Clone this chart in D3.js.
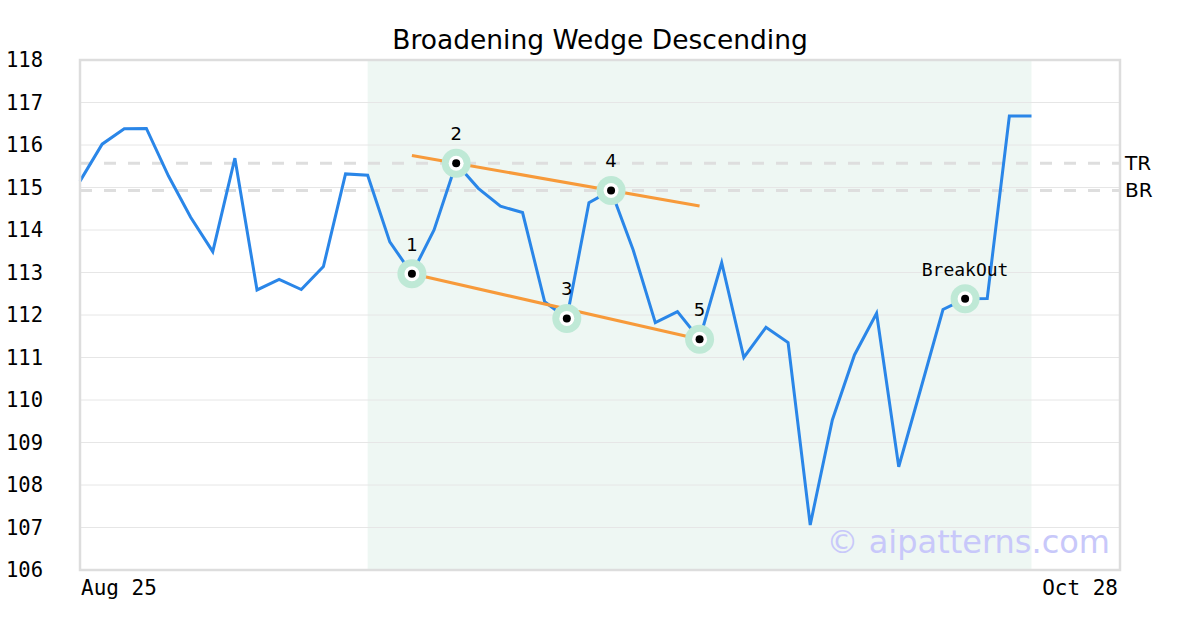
<!DOCTYPE html>
<html><head><meta charset="utf-8">
<script src="https://cdn.jsdelivr.net/npm/d3@7"></script>
<style>body{margin:0;background:#fff}svg{display:block}</style>
</head><body><svg id="c" width="1200" height="630"></svg>
<script>
const title = "Broadening Wedge Descending";
const prices = [115.15,116.02,116.38,116.39,115.27,114.30,113.49,115.69,112.59,112.84,112.60,113.14,115.32,115.29,113.72,112.97,114.00,115.57,114.98,114.56,114.41,112.31,111.92,114.64,114.93,113.53,111.82,112.08,111.43,113.23,111.00,111.71,111.35,107.06,109.53,111.06,112.04,108.43,110.27,112.13,112.38,112.39,116.68,116.68];
const pivotIdx = [15,17,22,24,28];
const pivotLabels = ["1","2","3","4","5"];
const breakoutIdx = 40;
const breakoutLabel = "BreakOut";
const shadeRange = [13,43];
const upperLine = [17,24];  // through pivots 2 and 4
const lowerLine = [15,28];  // pivot 1 to pivot 5
const lineSpan = [15,28];
const levels = [{name:"TR", value:115.57},{name:"BR", value:114.93}];
const yTicks = [106,107,108,109,110,111,112,113,114,115,116,117,118];
const xTickLabels = [{i:0,label:"Aug 25"},{i:47,label:"Oct 28"}];
const watermark = "© aipatterns.com";

const svg = d3.select("#c");
const L=80,R=1120,T=60,B=570;
const x = d3.scaleLinear().domain([0,47]).range([L,R]);
const y = d3.scaleLinear().domain([106,118]).range([B,T]);

// shade
svg.append("rect").attr("x",x(shadeRange[0])).attr("y",T).attr("width",x(shadeRange[1])-x(shadeRange[0])).attr("height",B-T).attr("fill","#eef7f3");

// grid
svg.append("g").selectAll("line").data(yTicks).join("line")
  .attr("x1",L).attr("x2",R).attr("y1",d=>y(d)).attr("y2",d=>y(d))
  .attr("stroke","#e6e6e6").attr("stroke-width",1);

// y labels
svg.append("g").selectAll("text").data(yTicks).join("text")
  .attr("x",6).attr("y",d=>y(d)).attr("dy","0.35em")
  .attr("font-family","DejaVu Sans Mono").attr("font-size",20.5).attr("fill","#000")
  .text(d=>d);

// x labels
svg.append("g").selectAll("text").data(xTickLabels).join("text")
  .attr("x",d=>d.i===0? x(d.i)+1 : x(d.i)-2).attr("y",595)
  .attr("text-anchor",d=>d.i===0?"start":"end")
  .attr("font-family","DejaVu Sans Mono").attr("font-size",21).attr("fill","#000")
  .text(d=>d.label);

// level lines
svg.append("g").selectAll("line").data(levels).join("line")
  .attr("x1",L).attr("x2",R).attr("y1",d=>y(d.value)).attr("y2",d=>y(d.value))
  .attr("stroke","#dedede").attr("stroke-width",3).attr("stroke-dasharray","12,12");
svg.append("g").selectAll("text").data(levels).join("text")
  .attr("x",1125).attr("y",d=>y(d.value)).attr("dy","0.35em")
  .attr("font-family","DejaVu Sans").attr("font-size",20).attr("fill","#000")
  .text(d=>d.name);

// watermark
svg.append("text").attr("x",1110).attr("y",553).attr("text-anchor","end")
  .attr("font-family","DejaVu Sans").attr("font-size",32).attr("fill","#c8c8fa")
  .text(watermark);

// price line
svg.append("path").datum(prices)
  .attr("d",d3.line().x((d,i)=>x(i)).y(d=>y(d)))
  .attr("fill","none").attr("stroke","#2a86e8").attr("stroke-width",3).attr("stroke-linejoin","miter");

// trend lines
function lineThrough(a,b,from,to){
  const m=(prices[b]-prices[a])/(b-a);
  return [[from,prices[a]+m*(from-a)],[to,prices[a]+m*(to-a)]];
}
const tl=[lineThrough(upperLine[0],upperLine[1],lineSpan[0],lineSpan[1]), lineThrough(lowerLine[0],lowerLine[1],lineSpan[0],lineSpan[1])];
svg.append("g").selectAll("path").data(tl).join("path")
  .attr("d",d3.line().x(d=>x(d[0])).y(d=>y(d[1])))
  .attr("fill","none").attr("stroke","#f79a3a").attr("stroke-width",3);

// markers
const marks = pivotIdx.map((i,k)=>({i,label:pivotLabels[k],mono:false})).concat([{i:breakoutIdx,label:breakoutLabel,mono:true}]);
const mg = svg.append("g").selectAll("g").data(marks).join("g")
  .attr("transform",d=>`translate(${x(d.i)},${y(prices[d.i])})`);
mg.append("circle").attr("r",14.5).attr("fill","#bfe9d6");
mg.append("circle").attr("r",7.5).attr("fill","#fff");
mg.append("circle").attr("r",4).attr("fill","#000");
mg.append("text").attr("y",-23).attr("text-anchor","middle")
  .attr("font-family",d=>d.mono?"DejaVu Sans Mono":"DejaVu Sans")
  .attr("font-size",18).attr("fill","#000")
  .text(d=>d.label);

// frame
svg.append("rect").attr("x",L).attr("y",T).attr("width",R-L).attr("height",B-T)
  .attr("fill","none").attr("stroke","#dddddd").attr("stroke-width",2.5);

// title
svg.append("text").attr("x",600).attr("y",49).attr("text-anchor","middle")
  .attr("font-family","DejaVu Sans").attr("font-size",26.5).attr("fill","#000")
  .text(title);
</script></body></html>
